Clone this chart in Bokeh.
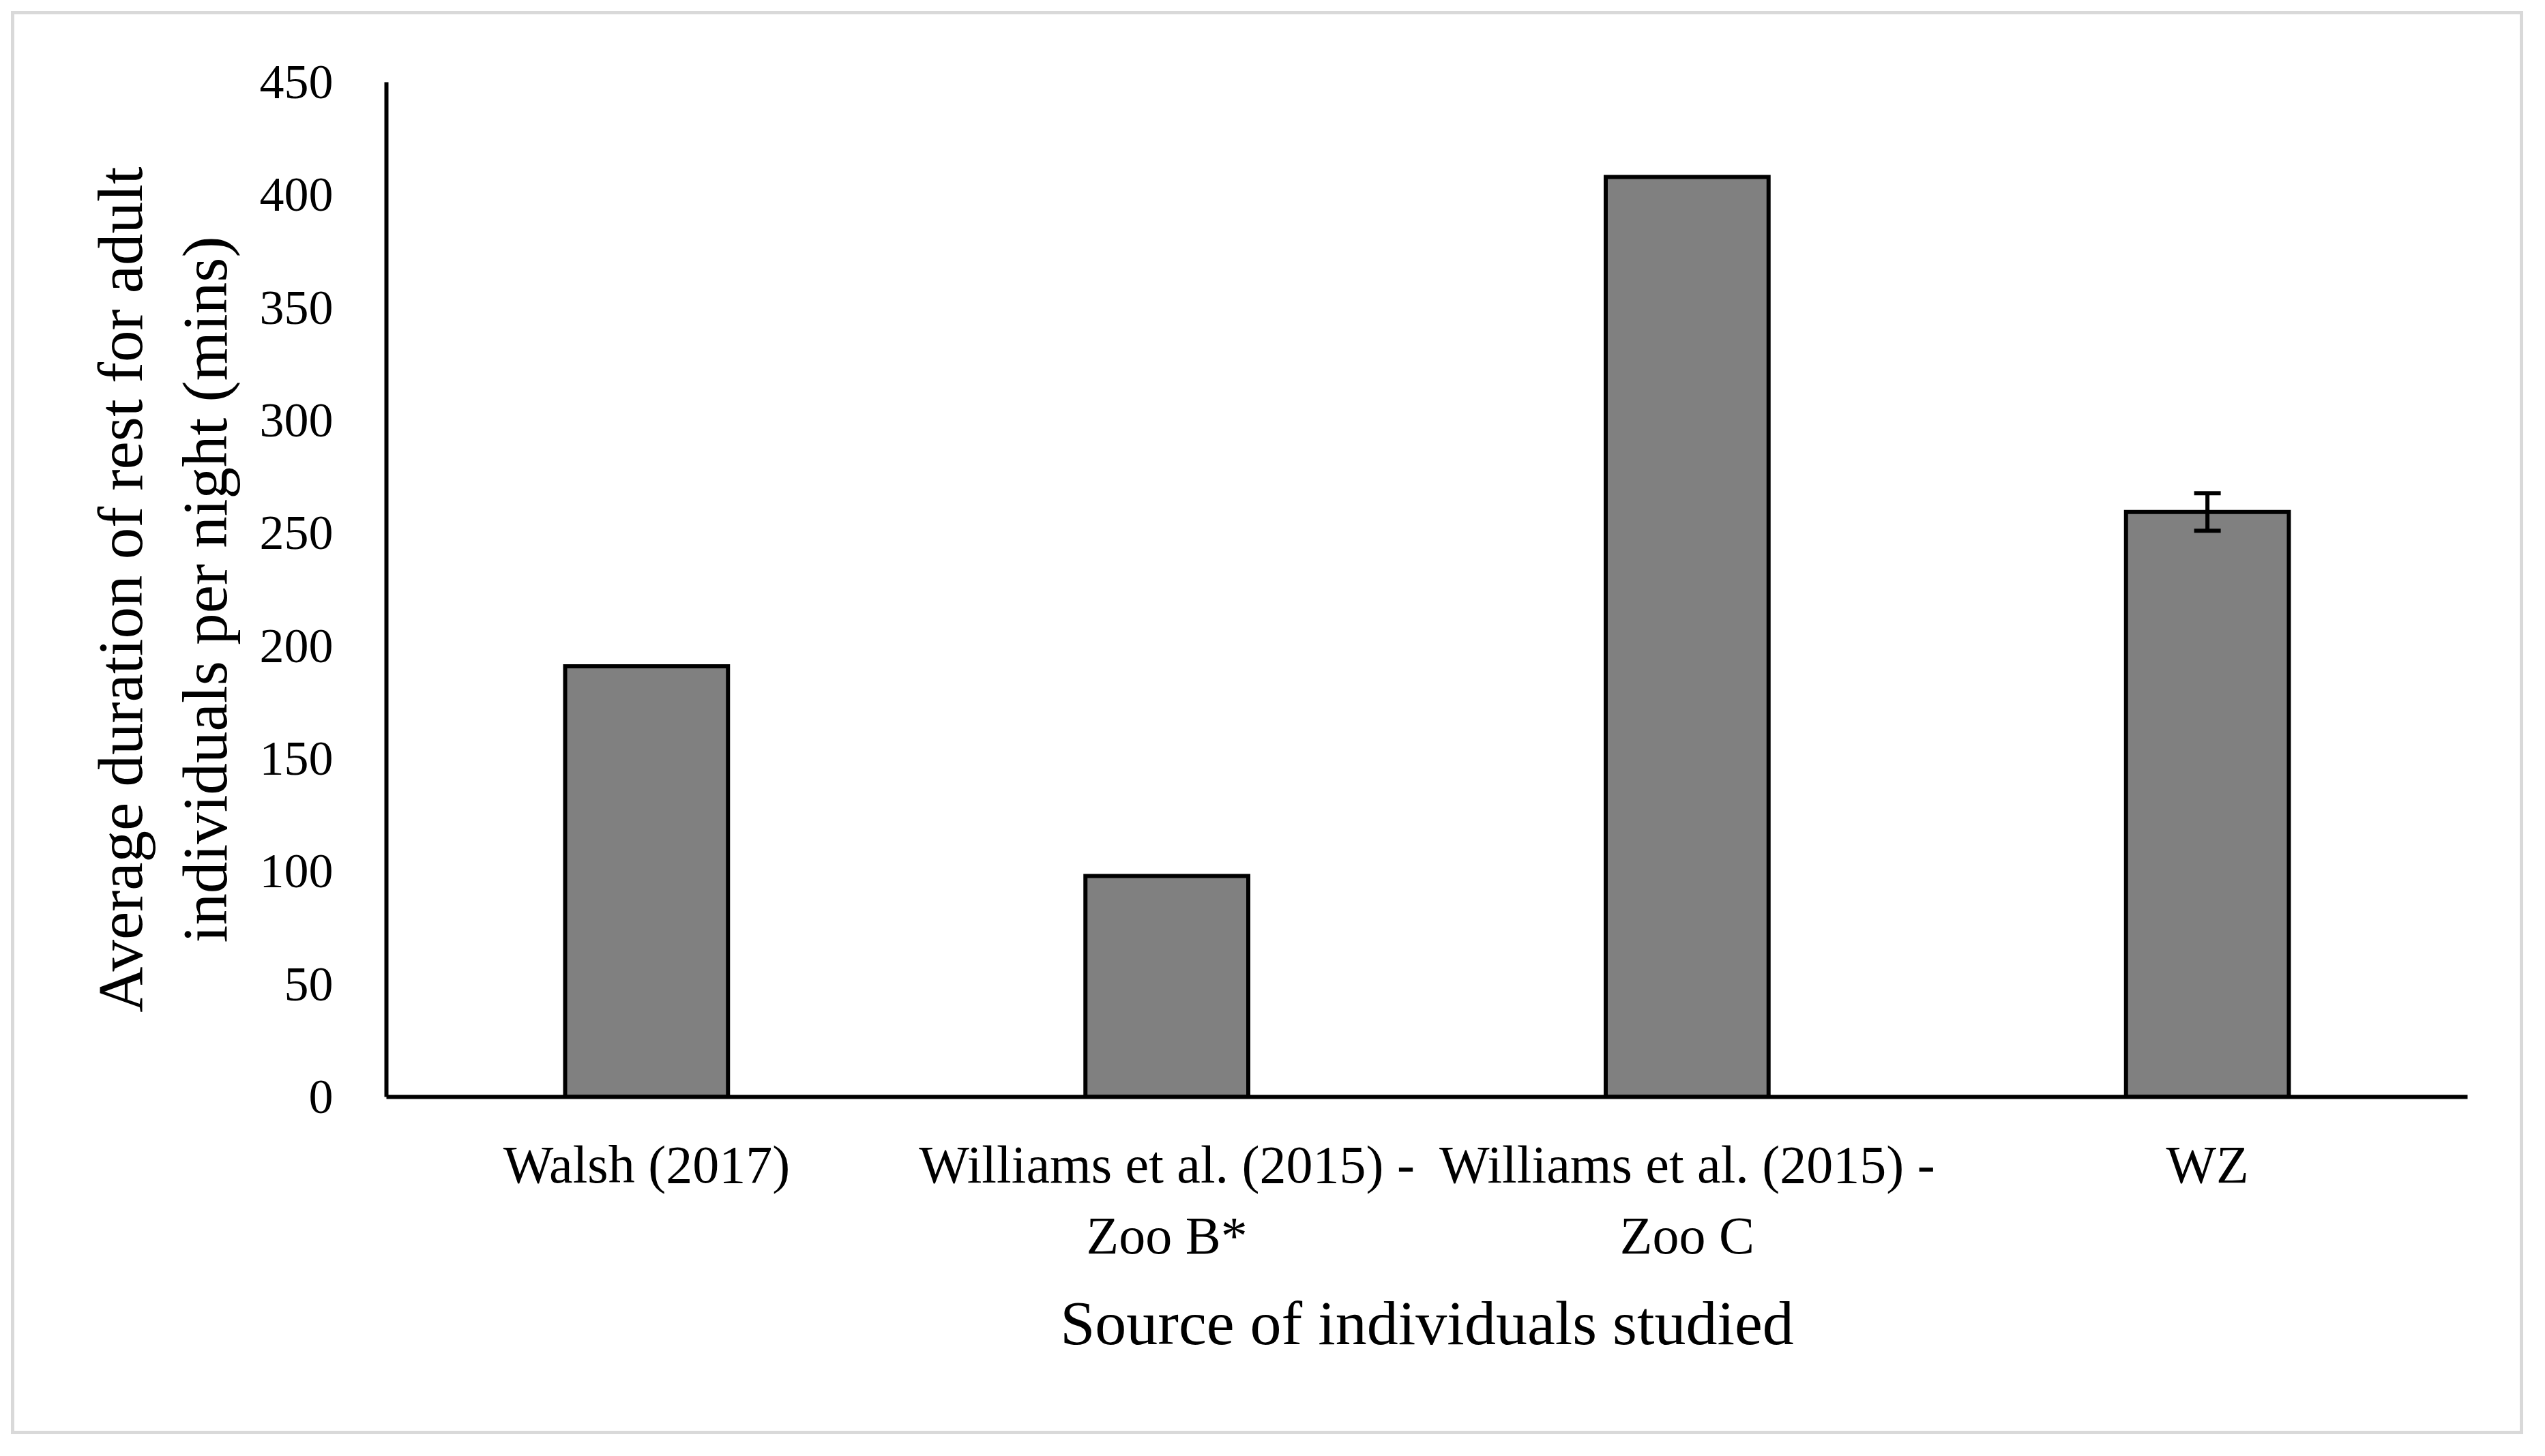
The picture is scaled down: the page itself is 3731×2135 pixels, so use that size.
from bokeh.plotting import figure
from bokeh.models import ColumnDataSource, FixedTicker, Whisker, TeeHead, FactorRange, Range1d
from bokeh.embed import file_html
from bokeh.resources import INLINE

categories = ["Walsh (2017)", "Williams et al. (2015) -\nZoo B*", "Williams et al. (2015) -\nZoo C", "WZ"]
values = [191, 98, 408, 259.4]
err_cat = ["WZ"]
err_mean = [259.4]
err_se = [8.3]
y_ticks = [0, 50, 100, 150, 200, 250, 300, 350, 400, 450]

FONT = "Liberation Serif"
W, H = 3715, 2119

p = figure(width=W, height=H, x_range=FactorRange(*categories, range_padding=0),
           y_range=Range1d(0, 450), output_backend="svg", toolbar_location=None,
           min_border_left=566, min_border_right=98, min_border_top=120, min_border_bottom=511)
p.background_fill_color = "white"
p.border_fill_color = None
p.outline_line_color = None
p.xgrid.visible = False
p.ygrid.visible = False
# outer light-grey frame around the whole chart
p.styles = {"outline": "5px solid #d9d9d9", "outline-offset": "-21px"}

src = ColumnDataSource(dict(x=categories, top=values))
p.vbar(x="x", top="top", width=0.313, source=src, fill_color="#808080",
       line_color="black", line_width=6, line_join="miter")

esrc = ColumnDataSource(dict(x=err_cat, upper=[m + s for m, s in zip(err_mean, err_se)],
                             lower=[m - s for m, s in zip(err_mean, err_se)]))
wh = Whisker(base="x", upper="upper", lower="lower", source=esrc, line_color="black", line_width=6,
             upper_head=TeeHead(size=39, line_width=6, line_color="black"),
             lower_head=TeeHead(size=39, line_width=6, line_color="black"),
             level="annotation")
p.add_layout(wh)

for ax in (p.xaxis[0], p.yaxis[0]):
    ax.axis_line_color = "black"
    ax.axis_line_width = 6
    ax.major_tick_line_color = None
    ax.minor_tick_line_color = None
    ax.major_tick_out = 0
    ax.major_tick_in = 0
    ax.major_label_text_font = FONT
    ax.major_label_text_color = "black"
    ax.axis_label_text_font = FONT
    ax.axis_label_text_font_style = "normal"
    ax.axis_label_text_color = "black"

p.yaxis.ticker = FixedTicker(ticks=y_ticks)
p.yaxis.major_label_text_font_size = "72px"
p.yaxis.major_label_standoff = 78
p.yaxis.axis_label = "Average duration of rest for adult\nindividuals per night (mins)"
p.yaxis.axis_label_text_font_size = "93px"
p.yaxis.axis_label_standoff = 26

p.xaxis.major_label_text_font_size = "78px"
p.xaxis.major_label_standoff = 55
p.xaxis.axis_label = "Source of individuals studied"
p.xaxis.axis_label_text_font_size = "92px"
p.xaxis.axis_label_standoff = 31

open("out.html", "w").write(file_html(p, INLINE))
